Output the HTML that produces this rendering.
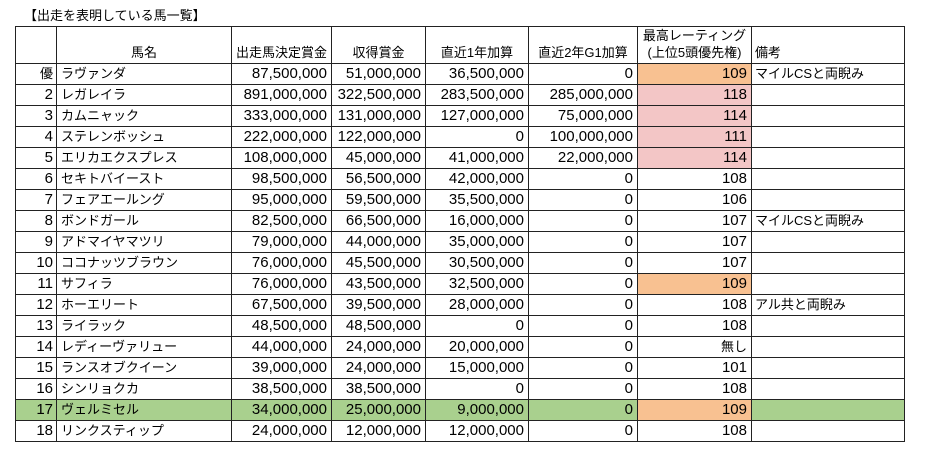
<!DOCTYPE html>
<html><head><meta charset="utf-8"><style>
html,body{margin:0;padding:0;background:#fff;}
body{width:926px;height:459px;position:relative;overflow:hidden;font-family:"Liberation Sans","Noto Sans CJK JP",sans-serif;color:#000;}
.title{position:absolute;left:24px;top:6px;font-size:13px;line-height:20px;white-space:nowrap;}
.grid{position:absolute;left:15px;top:26px;width:890px;height:416px;box-sizing:border-box;padding:1px;background:#222;display:grid;gap:1px;
grid-template-columns:40px 174px 99px 93px 102px 108px 113px 152px;
grid-template-rows:36px repeat(18,20px);}
.grid>div{background:#fff;overflow:hidden;white-space:nowrap;line-height:20px;}
.grid>div.h{display:flex;align-items:flex-end;justify-content:center;font-size:13px;line-height:17px;padding-bottom:2px;box-sizing:border-box;text-align:center;}
.grid>div.h>span{display:block;line-height:17px;}
.grid>div.hl{justify-content:flex-start;padding-left:3px;}
.n{text-align:right;padding-right:4px;font-size:15px;}
.i{text-align:right;padding-right:3px;font-size:15px;}
.grid>div.ij{font-size:13px;}
.t{padding-left:4px;font-size:13px;}
.b{padding-left:3px;font-size:13px;}
.grid>div.o{background:#f8c191;}
.grid>div.p{background:#f3c6c6;}
.grid>div.g{background:#a9d08e;}
</style></head><body>
<div class="title">【出走を表明している馬一覧】</div>
<div class="grid">
<div class="h"></div><div class="h"><span>馬名</span></div><div class="h"><span>出走馬決定賞金</span></div><div class="h"><span>収得賞金</span></div><div class="h"><span>直近1年加算</span></div><div class="h"><span>直近2年G1加算</span></div><div class="h"><span>最高レーティング<br>(上位5頭優先権)</span></div><div class="h hl"><span>備考</span></div>

<div class="i ij">優</div><div class="t">ラヴァンダ</div><div class="n">87,500,000</div><div class="n">51,000,000</div><div class="n">36,500,000</div><div class="n">0</div><div class="n o">109</div><div class="b">マイルCSと両睨み</div>

<div class="i">2</div><div class="t">レガレイラ</div><div class="n">891,000,000</div><div class="n">322,500,000</div><div class="n">283,500,000</div><div class="n">285,000,000</div><div class="n p">118</div><div class="b"></div>

<div class="i">3</div><div class="t">カムニャック</div><div class="n">333,000,000</div><div class="n">131,000,000</div><div class="n">127,000,000</div><div class="n">75,000,000</div><div class="n p">114</div><div class="b"></div>

<div class="i">4</div><div class="t">ステレンボッシュ</div><div class="n">222,000,000</div><div class="n">122,000,000</div><div class="n">0</div><div class="n">100,000,000</div><div class="n p">111</div><div class="b"></div>

<div class="i">5</div><div class="t">エリカエクスプレス</div><div class="n">108,000,000</div><div class="n">45,000,000</div><div class="n">41,000,000</div><div class="n">22,000,000</div><div class="n p">114</div><div class="b"></div>

<div class="i">6</div><div class="t">セキトバイースト</div><div class="n">98,500,000</div><div class="n">56,500,000</div><div class="n">42,000,000</div><div class="n">0</div><div class="n">108</div><div class="b"></div>

<div class="i">7</div><div class="t">フェアエールング</div><div class="n">95,000,000</div><div class="n">59,500,000</div><div class="n">35,500,000</div><div class="n">0</div><div class="n">106</div><div class="b"></div>

<div class="i">8</div><div class="t">ボンドガール</div><div class="n">82,500,000</div><div class="n">66,500,000</div><div class="n">16,000,000</div><div class="n">0</div><div class="n">107</div><div class="b">マイルCSと両睨み</div>

<div class="i">9</div><div class="t">アドマイヤマツリ</div><div class="n">79,000,000</div><div class="n">44,000,000</div><div class="n">35,000,000</div><div class="n">0</div><div class="n">107</div><div class="b"></div>

<div class="i">10</div><div class="t">ココナッツブラウン</div><div class="n">76,000,000</div><div class="n">45,500,000</div><div class="n">30,500,000</div><div class="n">0</div><div class="n">107</div><div class="b"></div>

<div class="i">11</div><div class="t">サフィラ</div><div class="n">76,000,000</div><div class="n">43,500,000</div><div class="n">32,500,000</div><div class="n">0</div><div class="n o">109</div><div class="b"></div>

<div class="i">12</div><div class="t">ホーエリート</div><div class="n">67,500,000</div><div class="n">39,500,000</div><div class="n">28,000,000</div><div class="n">0</div><div class="n">108</div><div class="b">アル共と両睨み</div>

<div class="i">13</div><div class="t">ライラック</div><div class="n">48,500,000</div><div class="n">48,500,000</div><div class="n">0</div><div class="n">0</div><div class="n">108</div><div class="b"></div>

<div class="i">14</div><div class="t">レディーヴァリュー</div><div class="n">44,000,000</div><div class="n">24,000,000</div><div class="n">20,000,000</div><div class="n">0</div><div class="n ij">無し</div><div class="b"></div>

<div class="i">15</div><div class="t">ランスオブクイーン</div><div class="n">39,000,000</div><div class="n">24,000,000</div><div class="n">15,000,000</div><div class="n">0</div><div class="n">101</div><div class="b"></div>

<div class="i">16</div><div class="t">シンリョクカ</div><div class="n">38,500,000</div><div class="n">38,500,000</div><div class="n">0</div><div class="n">0</div><div class="n">108</div><div class="b"></div>

<div class="i g">17</div><div class="t g">ヴェルミセル</div><div class="n g">34,000,000</div><div class="n g">25,000,000</div><div class="n g">9,000,000</div><div class="n g">0</div><div class="n o">109</div><div class="b g"></div>

<div class="i">18</div><div class="t">リンクスティップ</div><div class="n">24,000,000</div><div class="n">12,000,000</div><div class="n">12,000,000</div><div class="n">0</div><div class="n">108</div><div class="b"></div>
</div>
</body></html>
